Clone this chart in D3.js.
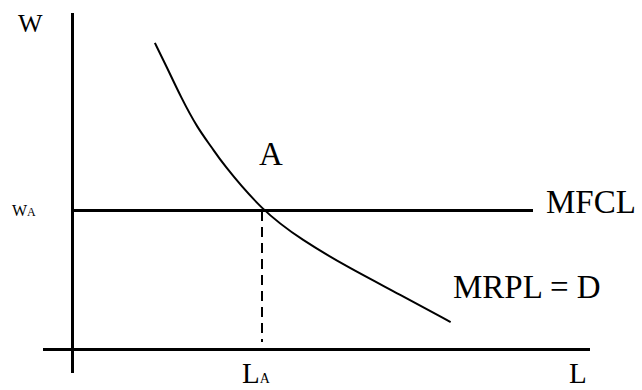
<!DOCTYPE html>
<html>
<head>
<meta charset="utf-8">
<script src="https://cdn.jsdelivr.net/npm/d3@7"></script>
<style>
  html, body { margin: 0; padding: 0; background: #fff; }
</style>
</head>
<body>
<div class="visHolder"></div>
<script>
// MRP of labour (demand) curve
const curveL = [16.0, 18.3, 21.0, 24.2, 27.1, 28.8, 36.7, 44.4, 53.5, 63.1, 73.1];
const curveW = [91.1, 83.9, 75.0, 65.8, 59.8, 55.7, 41.1, 32.4, 24.1, 16.4, 8.0];

// equilibrium point A and the MFC line
const wA = 41.1;
const LA = 36.7;
const mfclEnd = 89.0;

const curveLabels = ["MFCL", "MRPL = D"];
const pointLabel = "A";

let width = 642;
let height = 390;
let serif = "'Liberation Serif', 'Times New Roman', Times, serif";

let svg = d3
  .select(".visHolder")
  .append("svg")
  .attr("width", width)
  .attr("height", height)
  .style("display", "block");

let xScale = d3.scaleLinear().domain([0, 100]).range([72, 590]);
let yScale = d3.scaleLinear().domain([0, 100]).range([349, 13]);

// axes (plain lines, no ticks)
svg
  .append("line")
  .attr("x1", xScale(0))
  .attr("x2", xScale(0))
  .attr("y1", yScale(100))
  .attr("y2", yScale(-7.1))
  .attr("stroke", "#000")
  .attr("stroke-width", 3)
  .attr("shape-rendering", "crispEdges");

svg
  .append("line")
  .attr("x1", xScale(-5.6))
  .attr("x2", xScale(100))
  .attr("y1", yScale(0))
  .attr("y2", yScale(0))
  .attr("stroke", "#000")
  .attr("stroke-width", 3)
  .attr("shape-rendering", "crispEdges");

// MFCL horizontal line
svg
  .append("line")
  .attr("x1", xScale(0))
  .attr("x2", xScale(mfclEnd))
  .attr("y1", yScale(wA))
  .attr("y2", yScale(wA))
  .attr("stroke", "#000")
  .attr("stroke-width", 3)
  .attr("shape-rendering", "crispEdges");

// dashed drop line to LA
svg
  .append("line")
  .attr("x1", xScale(LA))
  .attr("x2", xScale(LA))
  .attr("y1", yScale(wA))
  .attr("y2", yScale(2))
  .attr("stroke", "#000")
  .attr("stroke-width", 2)
  .attr("stroke-dasharray", "10,6")
  .attr("shape-rendering", "crispEdges");

// demand curve
let points = curveL.map((d, i) => [d, curveW[i]]);
let line = d3
  .line()
  .x((d) => xScale(d[0]))
  .y((d) => yScale(d[1]))
  .curve(d3.curveBasis);

svg
  .append("path")
  .datum(points)
  .attr("d", line)
  .attr("fill", "none")
  .attr("stroke", "#000")
  .attr("stroke-width", 2);

// labels
function label(x, y, size, txt) {
  return svg
    .append("text")
    .attr("x", x)
    .attr("y", y)
    .attr("font-family", serif)
    .attr("font-size", size)
    .attr("fill", "#000")
    .text(txt);
}

label(18, 32, 26, "W");

let wa = label(12, 216, 16, "W");
wa.append("tspan").attr("font-size", 12).text("A");

label(xScale(LA) - 3, yScale(wA) - 46, 33, pointLabel);
label(546, 213, 33, curveLabels[0]);
label(453, 298, 33, curveLabels[1]);

let la = label(242, 383, 29, "L");
la.append("tspan").attr("font-size", 14).text("A");

label(569, 383, 29, "L");
</script>
</body>
</html>
